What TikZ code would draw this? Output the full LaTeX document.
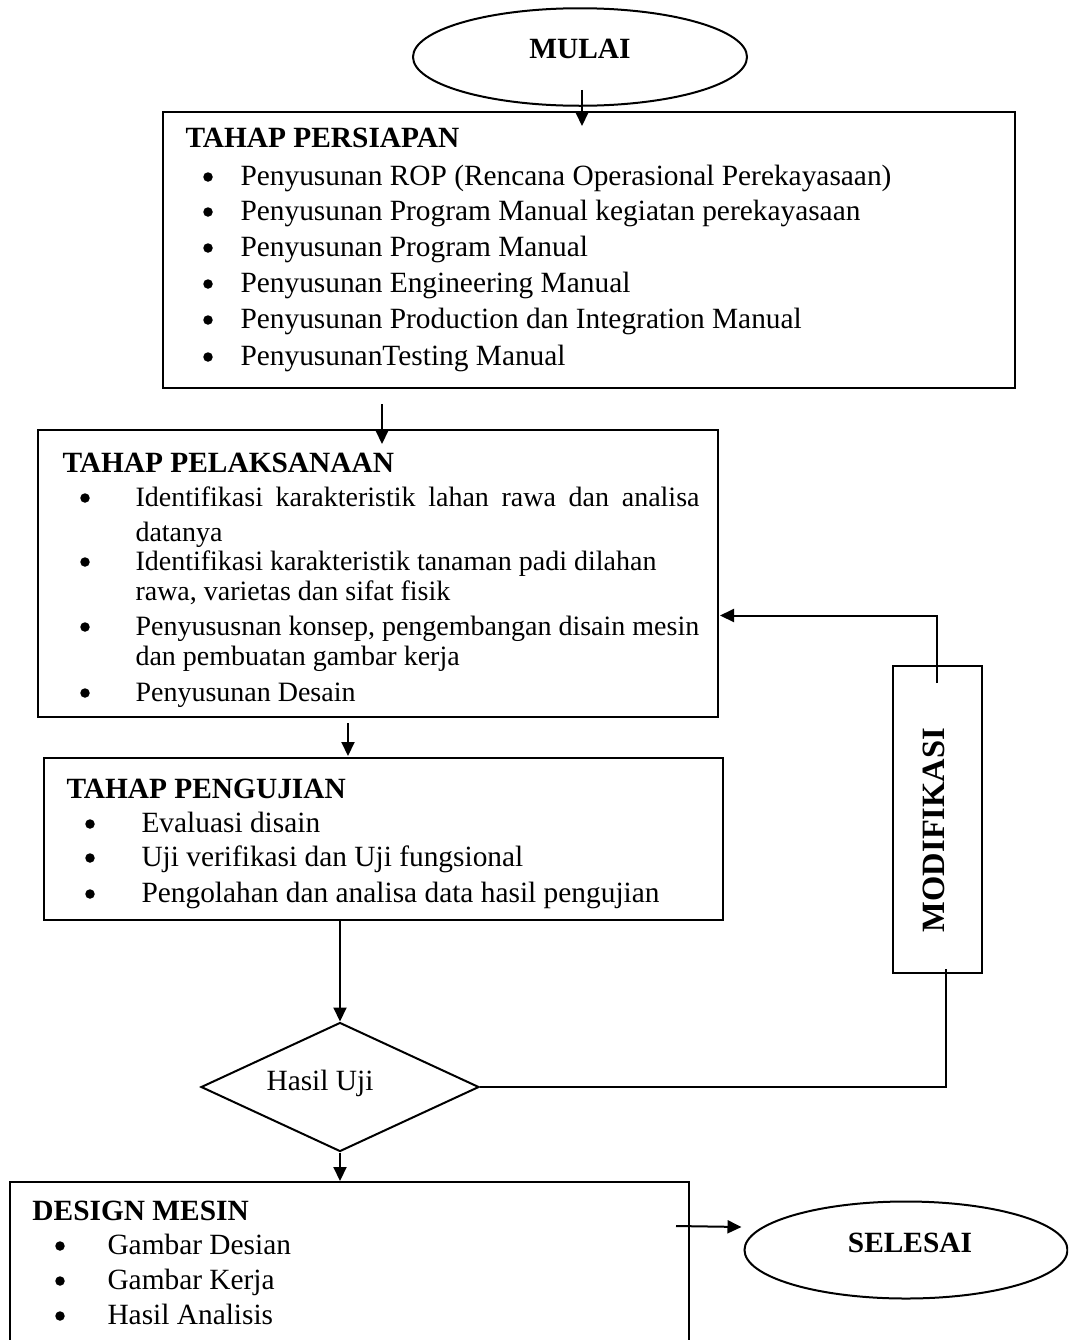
\documentclass[tikz,border=0pt]{standalone}
\usepackage{fontspec}
\setmainfont{Liberation Serif}
\usetikzlibrary{arrows.meta, positioning, fit, calc, shapes.geometric}

\begin{document}
\begin{tikzpicture}[
    x=0.4pt, y=-0.4pt, font=\fontsize{11.75}{14}\selectfont,
    box/.style={rectangle, draw, line width=0.8pt, inner sep=0pt},
    term/.style={ellipse, draw, line width=0.8pt, minimum width=#1,
      minimum height=39pt, inner sep=0pt},
    head/.style={anchor=base west, inner sep=0pt,
      font=\fontsize{11.75}{14}\selectfont\bfseries},
    item/.style={anchor=base west, inner sep=0pt},
    itemsm/.style={item, font=\fontsize{11.2}{13}\selectfont},
    dot/.style={circle, fill, inner sep=0pt, minimum size=3.8pt},
    arr/.style={-{Triangle[length=5.6pt, width=5.2pt]}, line width=0.8pt},
    link/.style={line width=0.8pt}
  ]
  \useasboundingbox (0,0) rectangle (1068,1340);
  \clip (0,0) rectangle (1068,1340);

  % start
  \node[term=133.6pt] (mulai) at (580,57) {};
  \node[font=\fontsize{11.75}{14}\selectfont\bfseries] (mulai-t) at (580,49) {MULAI};

  % tahap persiapan
  \node[box, fit={(163,112) (1015,388)}] (persiapan) {};
  \node[head] (persiapan-h) at (185,147) {TAHAP PERSIAPAN};
  \node[dot] (pb1) at (208,177) {};
  \node[item] (p1) at (240,185) {Penyusunan ROP (Rencana Operasional Perekayasaan)};
  \node[dot] (pb2) at (208,212) {};
  \node[item] (p2) at (240,220) {Penyusunan Program Manual kegiatan perekayasaan};
  \node[dot] (pb3) at (208,248) {};
  \node[item] (p3) at (240,256) {Penyusunan Program Manual};
  \node[dot] (pb4) at (208,284) {};
  \node[item] (p4) at (240,292) {Penyusunan Engineering Manual};
  \node[dot] (pb5) at (208,320) {};
  \node[item] (p5) at (240,328) {Penyusunan Production dan Integration Manual};
  \node[dot] (pb6) at (208,357) {};
  \node[item] (p6) at (240,365) {PenyusunanTesting Manual};

  % tahap pelaksanaan
  \node[box, fit={(38,430) (718,717)}] (pelaksanaan) {};
  \node[head] (pelaksanaan-h) at (62,472) {TAHAP PELAKSANAAN};
  \node[dot] (lb1) at (85,498) {};
  \node[itemsm] (l1) at (135,506) {\hbox to 225.6pt{Identifikasi karakteristik lahan rawa dan analisa}};
  \node[itemsm] (l1b) at (135,541) {datanya};
  \node[dot] (lb2) at (85,562) {};
  \node[itemsm] (l2) at (135,570) {Identifikasi karakteristik tanaman padi dilahan};
  \node[itemsm] (l2b) at (135,600) {rawa, varietas dan sifat fisik};
  \node[dot] (lb3) at (85,627) {};
  \node[itemsm] (l3) at (135,635) {Penyususnan konsep, pengembangan disain mesin};
  \node[itemsm] (l3b) at (135,665) {dan pembuatan gambar kerja};
  \node[dot] (lb4) at (85,693) {};
  \node[itemsm] (l4) at (135,701) {Penyusunan Desain};

  % tahap pengujian
  \node[box, fit={(44,758) (723,920)}] (pengujian) {};
  \node[head] (pengujian-h) at (66,798) {TAHAP PENGUJIAN};
  \node[dot] (ub1) at (90,824) {};
  \node[item] (u1) at (141,832) {Evaluasi disain};
  \node[dot] (ub2) at (90,858) {};
  \node[item] (u2) at (141,866) {Uji verifikasi dan Uji fungsional};
  \node[dot] (ub3) at (90,894) {};
  \node[item] (u3) at (141,902) {Pengolahan dan analisa data hasil pengujian};

  % modifikasi
  \node[box, fit={(893,666) (982,973)}] (modif) {};
  \node[font=\fontsize{13}{15}\selectfont\bfseries, rotate=90] (modif-t) at (934,830) {MODIFIKASI};

  % keputusan
  \node[diamond, draw, line width=0.8pt, inner sep=0pt,
    minimum width=111.2pt, minimum height=51.6pt] (uji) at (340,1087) {};
  \node (uji-t) at (320,1083) {Hasil Uji};

  % design mesin
  \node[box, fit={(10,1182) (689,1360)}] (desain) {};
  \node[head] (desain-h) at (32,1220) {DESIGN MESIN};
  \node[dot] (db1) at (60,1246) {};
  \node[item] (d1) at (107,1254) {Gambar Desian};
  \node[dot] (db2) at (60,1281) {};
  \node[item] (d2) at (107,1289) {Gambar Kerja};
  \node[dot] (db3) at (60,1316) {};
  \node[item] (d3) at (107,1324) {Hasil Analisis};

  % end
  \node[term=129.2pt, minimum height=38.8pt] (selesai) at (906,1250) {};
  \node[font=\fontsize{11.75}{14}\selectfont\bfseries] (selesai-t) at (910,1243) {SELESAI};

  \draw[arr] ($(mulai.south)+(2,-17)$) -- ($(mulai.south |- persiapan.north)+(2,15)$);
  \draw[arr] ($(pelaksanaan.north)+(4,-25)$) -- ($(pelaksanaan.north)+(4,15)$);
  \draw[arr] ($(pelaksanaan.south)+(-30,5)$) -- ($(pelaksanaan.south |- pengujian.north)+(-30,-1)$);
  \draw[arr] (pengujian.south -| uji.north) -- (uji.north);
  \draw[arr] (uji.south) -- (uji.south |- desain.north);
  \draw[arr] ($(modif.north)+(-1,18)$) |- ($(pelaksanaan.east)+(1,42)$);
  \draw[link] (uji.east) -| ($(modif.south)+(8,-5)$);
  \draw[arr] ($(desain.north east)+(-14,45)$) -- ($(selesai.west)+(-2,-23)$);
\end{tikzpicture}
\end{document}
